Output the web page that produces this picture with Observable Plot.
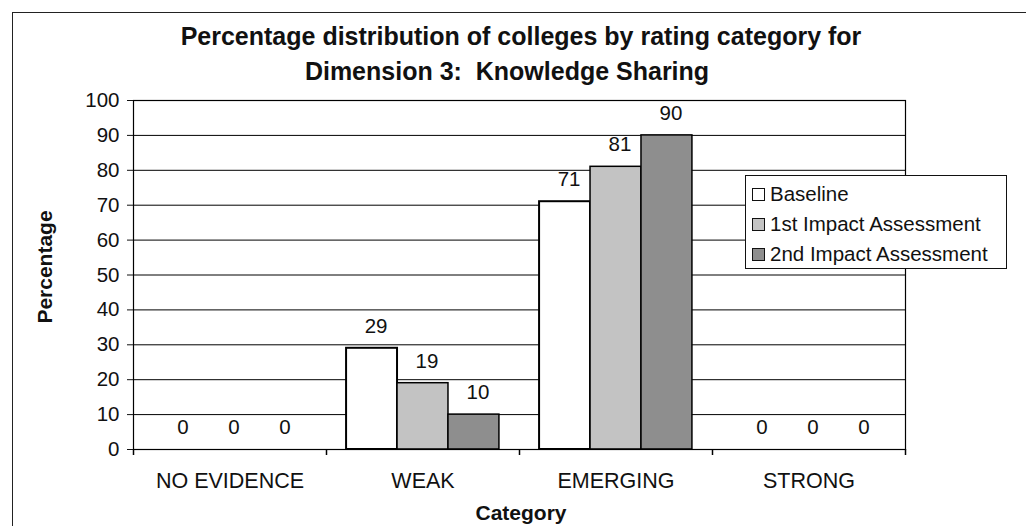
<!DOCTYPE html>
<html><head><meta charset="utf-8">
<script src="https://cdn.jsdelivr.net/npm/d3@7"></script>
<script src="https://cdn.jsdelivr.net/npm/@observablehq/plot@0.6"></script>
<style>
body{margin:0;background:#fff;font-family:"Liberation Sans",Arial,sans-serif;color:#111;}
#wrap{position:relative;width:1026px;height:526px;overflow:hidden;background:#fff}
#chart{position:absolute;left:0;top:0}
.frame{position:absolute;left:12px;top:12px;width:1040px;height:540px;border-top:1.5px solid #222;border-left:1.5px solid #222}
.title{position:absolute;font-weight:bold;font-size:25px;line-height:1;white-space:pre;transform:translateX(-50%)}
.axlab{position:absolute;font-weight:bold;font-size:21px;line-height:1;white-space:pre}
.legend{position:absolute;left:745px;top:175px;width:262px;height:94px;border:1.5px solid #111;background:#fff;box-sizing:border-box;padding:3px 0 0 6px}
.item{display:flex;align-items:center;height:30px;font-size:20.5px;white-space:pre}
.sw{width:13px;height:13px;border:1.5px solid #111;margin-right:5px;box-sizing:border-box}
</style></head>
<body>
<div id="wrap">
  <div class="frame"></div>
  <div id="chart"></div>
  <div class="title" style="left:521px;top:24px">Percentage distribution of colleges by rating category for</div>
  <div class="title" style="left:507px;top:59px">Dimension 3:  Knowledge Sharing</div>
  <div class="axlab" style="left:521px;top:502px;transform:translateX(-50%)">Category</div>
  <div class="axlab" style="left:44px;top:267px;transform:translate(-50%,-50%) rotate(-90deg)">Percentage</div>
  <div class="legend" id="legend"></div>
</div>
<script>
const categories = ["NO EVIDENCE", "WEAK", "EMERGING", "STRONG"];
const series = ["Baseline", "1st Impact Assessment", "2nd Impact Assessment"];
const baseline = [0, 29, 71, 0];
const impact1 = [0, 19, 81, 0];
const impact2 = [0, 10, 90, 0];
const yTicks = [0, 10, 20, 30, 40, 50, 60, 70, 80, 90, 100];
const colors = ["#ffffff", "#c3c3c3", "#8e8e8e"];

const values = [baseline, impact1, impact2];
const data = series.flatMap((s, i) => categories.map((c, j) => ({category: c, series: s, si: i, value: values[i][j]})));

const W = 1026, H = 526, mL = 133, mR = 121, mT = 100, mB = 77;
const bw = (W - mL - mR) / categories.length;
const pad = bw * 0.104;
const barW = (bw - 2 * pad) / series.length;

const chart = Plot.plot({
  width: W, height: H,
  marginLeft: mL, marginRight: mR, marginTop: mT, marginBottom: mB,
  style: {fontFamily: '"Liberation Sans", Arial, sans-serif', color: "#111", background: "transparent"},
  x: {domain: categories, padding: 0},
  y: {domain: [0, 100]},
  marks: [
    Plot.gridY(yTicks, {stroke: "#000", strokeOpacity: 1, strokeWidth: 1}),
    ...series.map((s, i) => Plot.barY(data.filter(d => d.si === i && d.value > 0), {
      x: "category", y: "value", fill: colors[i], stroke: "#000", strokeWidth: i === 0 ? 2 : 1.5,
      insetLeft: pad + barW * i, insetRight: bw - pad - barW * (i + 1)
    })),
    ...series.map((s, i) => Plot.text(data.filter(d => d.si === i), {
      x: "category", y: "value", text: d => String(d.value),
      dx: pad + barW * (i + 0.5) - bw / 2 + 4, dy: -22, fontSize: 20.5, fill: "#111"
    })),
    Plot.frame({stroke: "#000", strokeWidth: 1.2}),
    Plot.ruleX(categories, {x: d => d, y1: 0, y2: 0, dx: -bw / 2, insetBottom: -6, stroke: "#000", strokeWidth: 1.5}),
    Plot.ruleX(categories.slice(-1), {x: d => d, y1: 0, y2: 0, dx: bw / 2, insetBottom: -6, stroke: "#000", strokeWidth: 1.5}),
    Plot.axisY({ticks: yTicks, tickSize: 6, tickPadding: 8, fontSize: 20.5, label: null}),
    Plot.axisX({tickSize: 0, tickPadding: 23, fontSize: 21.5, label: null})
  ]
});
document.getElementById("chart").appendChild(chart);

const legend = document.getElementById("legend");
series.forEach((s, i) => {
  const item = document.createElement("div");
  item.className = "item";
  const sw = document.createElement("span");
  sw.className = "sw";
  sw.style.background = colors[i];
  item.appendChild(sw);
  item.appendChild(document.createTextNode(s));
  legend.appendChild(item);
});
</script>
</body></html>
